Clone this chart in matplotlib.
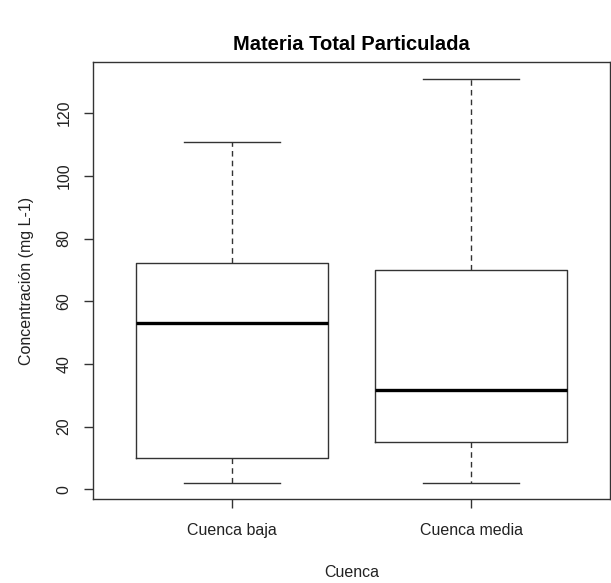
import matplotlib.pyplot as plt

plt.rcParams['font.family'] = ['Liberation Sans', 'DejaVu Sans']

# Datos (resumen de cinco numeros por cuenca)
categorias = ['Cuenca baja', 'Cuenca media']
minimos = [2.1, 2.1]
q1 = [10.0, 15.2]
medianas = [53.0, 31.8]
q3 = [72.3, 70.0]
maximos = [110.9, 131.0]

stats = []
for i, nombre in enumerate(categorias):
    stats.append({'label': nombre, 'whislo': minimos[i], 'q1': q1[i],
                  'med': medianas[i], 'q3': q3[i], 'whishi': maximos[i]})

fig = plt.figure(figsize=(6.11, 5.83), dpi=100)
ax = fig.add_axes([0.1522, 0.1441, 0.846, 0.749])

gris = '#333333'
ax.bxp(stats, positions=[1, 2], widths=0.8, showfliers=False,
       boxprops=dict(color=gris, linewidth=1.0),
       whiskerprops=dict(color=gris, linewidth=1.0, linestyle=(0, (4, 3))),
       capprops=dict(color=gris, linewidth=1.0),
       medianprops=dict(color='black', linewidth=2.4))

ax.set_xlim(0.42, 2.58)
ax.set_ylim(-3.06, 136.2)
ax.set_yticks([0, 20, 40, 60, 80, 100, 120])
ax.set_xticks([1, 2])
ax.set_xticklabels(categorias)

for s in ax.spines.values():
    s.set_color(gris)
    s.set_linewidth(1.0)

ax.tick_params(axis='both', length=6.5, width=1.0, color=gris, labelsize=11.5,
               labelcolor='#222222')
ax.tick_params(axis='x', pad=11)
ax.tick_params(axis='y', pad=9)
for lab in ax.get_yticklabels():
    lab.set_rotation(90)
    lab.set_va('center')

ax.set_title('Materia Total Particulada', fontsize=14.5, fontweight='bold', pad=9)
ax.set_ylabel('Concentración (mg L-1)', fontsize=11.5, color='#222222', labelpad=16)
ax.set_xlabel('Cuenca', fontsize=11.5, color='#222222', labelpad=19)

fig.savefig('out.png', dpi=100)
